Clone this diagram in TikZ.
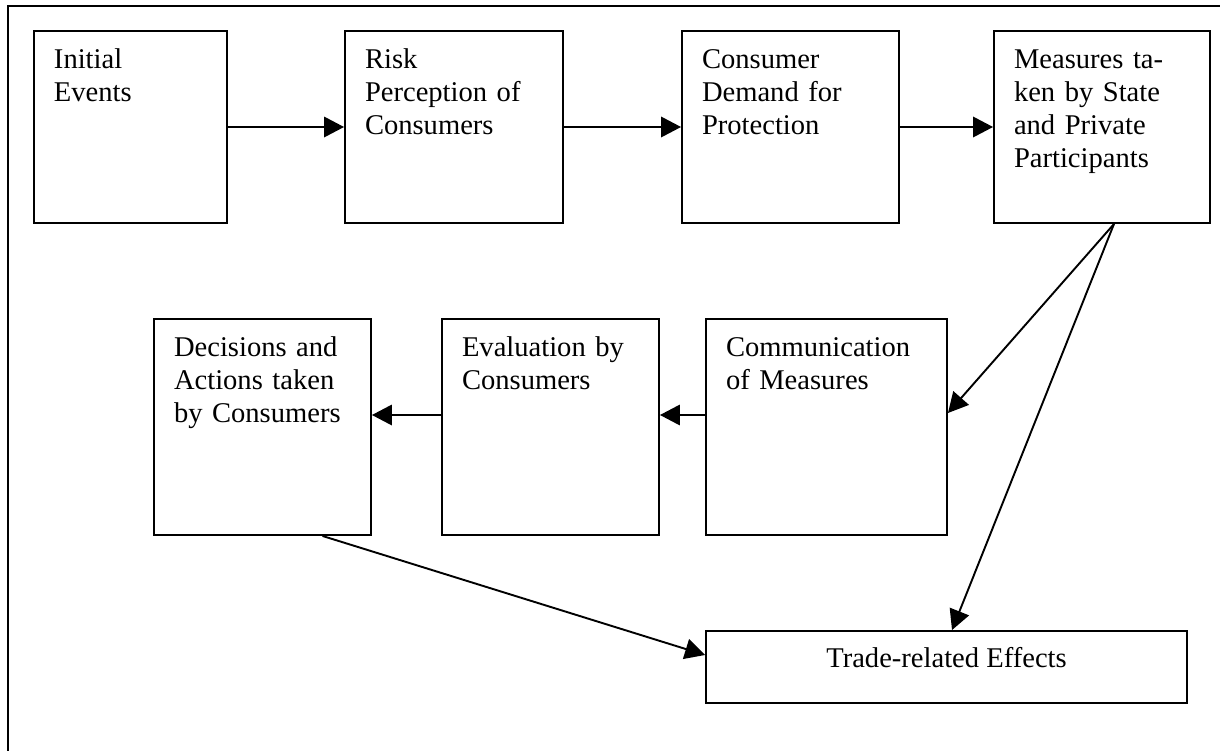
\documentclass[tikz,border=0pt]{standalone}
\usepackage{fontspec}
\setmainfont{Liberation Serif}
\usetikzlibrary{arrows.meta,calc}
\newcommand{\unitpx}{0.42pt}

\begin{document}
\begin{tikzpicture}[x=\unitpx, y=-\unitpx, line width=0.8pt]
  \tikzstyle{box} = [rectangle, draw, inner sep=0pt, minimum height=192*\unitpx]
  \tikzstyle{txt} = [anchor=base west, inner sep=0pt, text width=90pt, align=left, font=\fontsize{12pt}{13.9pt}\selectfont]
  \tikzstyle{arr} = [-{Triangle[length=8.4pt, width=8.6pt]}]

  \useasboundingbox (0,0) rectangle (1222,751);
  \draw (8,751) -- (8,6) -- (1220,6);

  \node[box, minimum width=193*\unitpx] (init) at (130.5,127) {};
  \node[box, minimum width=218*\unitpx] (risk) at (454,127) {};
  \node[box, minimum width=217*\unitpx] (demand) at (790.5,127) {};
  \node[box, minimum width=216*\unitpx] (measures) at (1102,127) {};
  \node[box, minimum width=217*\unitpx, minimum height=216*\unitpx] (decisions) at (262.5,427) {};
  \node[box, minimum width=217*\unitpx, minimum height=216*\unitpx] (evaluation) at (550.5,427) {};
  \node[box, minimum width=241*\unitpx, minimum height=216*\unitpx] (communication) at (826.5,427) {};
  \node[box, minimum width=481*\unitpx, minimum height=72*\unitpx] (trade) at (946.5,667) {};

  \node[txt] (init-text) at ($(init.north west)+(20,38)$) {Initial\\Events};
  \node[txt] (risk-text) at ($(risk.north west)+(20,38)$) {Risk\\Perception of\\Consumers};
  \node[txt] (demand-text) at ($(demand.north west)+(20,38)$) {Consumer\\Demand for\\Protection};
  \node[txt] (measures-text) at ($(measures.north west)+(20,38)$) {Measures ta-\\ken by State\\and Private\\Participants};
  \node[txt] (decisions-text) at ($(decisions.north west)+(20,38)$) {Decisions and\\Actions taken\\by Consumers};
  \node[txt] (evaluation-text) at ($(evaluation.north west)+(20,38)$) {Evaluation by\\Consumers};
  \node[txt] (communication-text) at ($(communication.north west)+(20,38)$) {Communication\\of Measures};
  \node[anchor=base, inner sep=0pt, font=\fontsize{12pt}{13.9pt}\selectfont] (trade-text) at ($(trade.north)+(0,37)$) {Trade-related Effects};

  \draw[arr] (init) -- (risk);
  \draw[arr] (risk) -- (demand);
  \draw[arr] (demand) -- (measures);

  \coordinate (fork) at ($(measures.south)+(12,0)$);
  \draw[arr] (fork) -- ($(communication.east)+(0,-14)$);
  \draw[arr] (fork) -- ($(trade.north)+(5.5,0)$);

  \draw[arr] ($(communication.west)+(0,-12)$) -- ($(evaluation.east)+(0,-12)$);
  \draw[arr] ($(evaluation.west)+(0,-12)$) -- ($(decisions.east)+(0,-12)$);
  \draw[arr] ($(decisions.south)+(60,0)$) -- ($(trade.west)+(0,-12)$);

\end{tikzpicture}
\end{document}
